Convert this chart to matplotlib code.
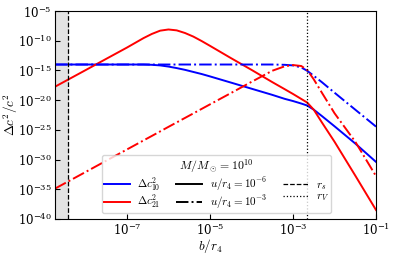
import numpy as np
import matplotlib
matplotlib.use("Agg")
import matplotlib.pyplot as plt
from matplotlib.lines import Line2D

plt.rcParams['mathtext.fontset'] = 'cm'
plt.rcParams['font.family'] = 'serif'
plt.rcParams['font.serif'] = ['DejaVu Serif']

# impact parameter b/r4
b = [1.84e-9, 1e-8, 3.16e-8, 1e-7, 2.51e-7, 3.98e-7, 6.31e-7, 1e-6, 1.58e-6,
     2.51e-6, 3.98e-6, 6.31e-6, 1e-5, 3.16e-5, 1e-4, 3.16e-4, 6.31e-4, 1e-3,
     1.58e-3, 2.19e-3, 3.16e-3, 5.01e-3, 1e-2, 3.16e-2, 1e-1]

# Delta c^2/c^2, u/r4 = 1e-6
c10_u6 = [1e-14, 1e-14, 1e-14, 1e-14, 1e-14, 0.89e-14, 0.71e-14, 4.5e-15, 2.5e-15,
          1.26e-15, 5.6e-16, 2.5e-16, 1e-16, 9.3e-18, 8.5e-19, 7.8e-20, 1.66e-20, 7.1e-21,
          2.7e-21, 1.26e-21, 2.5e-22, 2e-23, 4e-25, 5e-28, 4e-31]
c21_u6 = [1.8e-18, 1.1e-15, 8.9e-14, 7.1e-12, 2.8e-10, 1.4e-9, 5e-9, 7.9e-9, 5.6e-9,
          2e-9, 5e-10, 8.9e-11, 1.4e-11, 1.26e-13, 1.26e-15, 1.1e-17, 7e-19, 1.1e-19,
          1.6e-20, 4e-21, 2.5e-22, 1.6e-24, 1e-27, 2e-33, 3.2e-39]
# Delta c^2/c^2, u/r4 = 1e-3
c10_u3 = [1e-14, 1e-14, 1e-14, 1e-14, 1e-14, 1e-14, 1e-14, 1e-14, 1e-14,
          1e-14, 1e-14, 1e-14, 1e-14, 1e-14, 1e-14, 1e-14, 0.89e-14, 0.71e-14,
          3.2e-15, 8.9e-16, 1.26e-16, 1e-17, 1.8e-19, 2.5e-22, 3.5e-25]
c21_u3 = [1.26e-35, 7.8e-33, 6.3e-31, 5e-29, 1.66e-27, 9.5e-27, 5.5e-26, 3.2e-25, 1.8e-24,
          1.03e-23, 5.9e-23, 3.4e-22, 1.95e-21, 1.5e-19, 1.2e-17, 8.9e-16, 5e-15, 8.1e-15,
          5.6e-15, 1.26e-15, 3.2e-17, 1.6e-19, 6.3e-23, 1e-27, 1.6e-33]

r_s = 3.7e-9
r_V = 2.2e-3

fig = plt.figure(figsize=(3.95, 2.57), dpi=100)
ax = fig.add_axes([0.139, 0.148, 0.813, 0.809])

ax.plot(b, c10_u6, color='blue', lw=1.4)
ax.plot(b, c21_u6, color='red', lw=1.4)
ax.plot(b, c10_u3, color='blue', lw=1.4, ls='-.')
ax.plot(b, c21_u3, color='red', lw=1.4, ls='-.')

ax.axvspan(1e-10, r_s, color='#e3e3e3', zorder=0)
ax.axvline(r_s, color='k', ls='--', lw=0.9)
ax.axvline(r_V, color='k', ls=':', lw=0.9)

ax.set_xscale('log')
ax.set_yscale('log')
ax.set_xlim(1.84e-9, 1e-1)
ax.set_ylim(1e-40, 1e-5)
ax.set_xticks([1e-7, 1e-5, 1e-3, 1e-1])
ax.set_yticks([1e-40, 1e-35, 1e-30, 1e-25, 1e-20, 1e-15, 1e-10, 1e-5])
ax.minorticks_off()
ax.tick_params(direction='in', labelsize=8.5, pad=2.5)
ax.set_xlabel('$b/r_4$', fontsize=9.5)
ax.xaxis.set_label_coords(0.483, -0.085)
ax.set_ylabel(r'$\Delta c^2/c^2$', fontsize=9.5)
ax.yaxis.set_label_coords(-0.108, 0.5)

handles = [Line2D([], [], color='blue', lw=1.4),
           Line2D([], [], color='red', lw=1.4),
           Line2D([], [], color='k', lw=1.4),
           Line2D([], [], color='k', lw=1.4, ls='-.'),
           Line2D([], [], color='k', lw=0.9, ls='--'),
           Line2D([], [], color='k', lw=0.9, ls=':')]
labels = [r'$\Delta c^2_{10}$', r'$\Delta c^2_{21}$',
          r'$u/r_4 = 10^{-6}$', r'$u/r_4 = 10^{-3}$',
          r'$r_s$', r'$r_V$']
ax.legend(handles, labels, ncol=3, title=r'$M/M_\odot = 10^{10}$',
          fontsize=8, title_fontsize=8.5, loc='lower left',
          bbox_to_anchor=(0.146, 0.029), borderaxespad=0, handlelength=2.3,
          columnspacing=1.4, handletextpad=0.7, labelspacing=0.0,
          borderpad=0.2, handleheight=0.5)

fig.savefig('out.png', dpi=100)
